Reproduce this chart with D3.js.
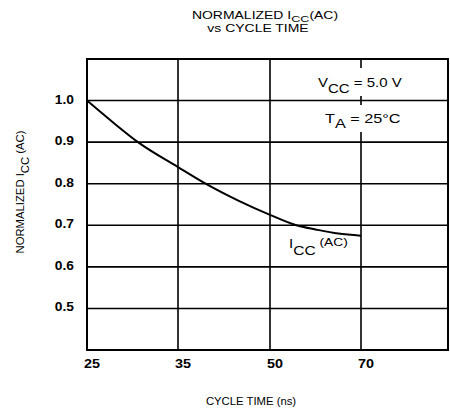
<!DOCTYPE html>
<html>
<head>
<meta charset="UTF-8">
<title>Normalized ICC(AC) vs Cycle Time</title>
<script src="https://cdn.jsdelivr.net/npm/d3@7"></script>
<style>
  body { margin: 0; background: #fff; }
  text { font-family: "Liberation Sans", Arial, sans-serif; fill: #000; }
</style>
</head>
<body>
<div id="chart"></div>
<script>
// data
var cycleTicks = [25, 35, 50, 70];
var iccTicks = [0.5, 0.6, 0.7, 0.8, 0.9, 1.0];
var cycleTime = [25, 28, 30.6, 35, 39.5, 45, 50, 55.8, 60, 65, 70];
var iccNorm = [1.0, 0.945, 0.9, 0.84, 0.8, 0.758, 0.725, 0.7, 0.69, 0.68, 0.675];

var W = 450, H = 408;
// plot box edges (note: "top" is taken by window.top)
var plotL = 87, plotR = 448, plotT = 59, plotB = 350;

var svg = d3.select("#chart").append("svg")
  .attr("width", W)
  .attr("height", H);

// the scanned lettering is wider than Arial, so stretch it sideways
function wideText(parent, x, y, sx, size) {
  return parent.append("g")
    .attr("transform", "translate(" + x + "," + y + ") scale(" + sx + ",1)")
    .append("text")
    .attr("font-size", size);
}

// the axis is not linear: each cycle time has the same column width
var x = d3.scaleLinear()
  .domain(cycleTicks)
  .range([87, 178, 270, 361]);
var y = d3.scaleLinear()
  .domain([0.4, 1.1])
  .range([plotB, plotT]);

// grid
svg.append("g").selectAll("line")
  .data(iccTicks)
  .enter().append("line")
  .attr("x1", plotL).attr("x2", plotR)
  .attr("y1", function (d) { return y(d); })
  .attr("y2", function (d) { return y(d); })
  .attr("stroke", "#000").attr("stroke-width", 1.6);

svg.append("g").selectAll("line")
  .data(cycleTicks.slice(1))
  .enter().append("line")
  .attr("x1", function (d) { return x(d); })
  .attr("x2", function (d) { return x(d); })
  .attr("y1", plotT).attr("y2", plotB)
  .attr("stroke", "#000").attr("stroke-width", 1.6);

// frame
svg.append("rect")
  .attr("x", plotL).attr("y", plotT)
  .attr("width", plotR - plotL).attr("height", plotB - plotT)
  .attr("fill", "none").attr("stroke", "#000").attr("stroke-width", 2);

// tick labels
cycleTicks.forEach(function (d) {
  wideText(svg, x(d) + 5, 368, 1.2, 12)
    .attr("text-anchor", "middle").attr("font-weight", "bold")
    .text(d);
});

iccTicks.forEach(function (d) {
  wideText(svg, 74, y(d) + 3, 1.15, 12)
    .attr("text-anchor", "end").attr("font-weight", "bold")
    .text(d.toFixed(1));
});

// condition notes, on white so the 70 gridline breaks behind them
svg.append("rect").attr("x", 314).attr("y", 68).attr("width", 88).attr("height", 28).attr("fill", "#fff");
svg.append("rect").attr("x", 321).attr("y", 105).attr("width", 80).attr("height", 27).attr("fill", "#fff");

var vcc = wideText(svg, 318, 87, 1.2, 12.5);
vcc.append("tspan").text("V");
vcc.append("tspan").attr("dy", 6).text("CC");
vcc.append("tspan").attr("dy", -6).text(" = 5.0 V");

var ta = wideText(svg, 325, 123, 1.3, 12.5);
ta.append("tspan").text("T");
ta.append("tspan").attr("dy", 5).text("A");
ta.append("tspan").attr("dy", -5).text(" = 25°C");

// curve
var line = d3.line()
  .x(function (d) { return x(d[0]); })
  .y(function (d) { return y(d[1]); })
  .curve(d3.curveMonotoneX);

svg.append("path")
  .datum(d3.zip(cycleTime, iccNorm))
  .attr("d", line)
  .attr("fill", "none")
  .attr("stroke", "#000")
  .attr("stroke-width", 2);

var lab = wideText(svg, 289, 248, 1.25, 12);
lab.append("tspan").text("I");
lab.append("tspan").attr("dy", 7).attr("font-size", 12.5).text("CC");
lab.append("tspan").attr("dy", -9).attr("font-size", 11).text(" (AC)");

// titles
var t1 = wideText(svg, 265, 18.5, 1.33, 10.5).attr("text-anchor", "middle");
t1.append("tspan").text("NORMALIZED I");
t1.append("tspan").attr("dy", 3.5).attr("font-size", 9.5).text("CC");
t1.append("tspan").attr("dy", -3.5).text("(AC)");
wideText(svg, 258, 31.5, 1.33, 10.5).attr("text-anchor", "middle")
  .text("vs  CYCLE TIME");

svg.append("text").attr("x", 251).attr("y", 405).attr("text-anchor", "middle")
  .attr("font-size", 11.3).text("CYCLE TIME (ns)");

var yl = svg.append("text")
  .attr("transform", "translate(24,192) rotate(-90)")
  .attr("text-anchor", "middle").attr("font-size", 11.3);
yl.append("tspan").text("NORMALIZED I");
yl.append("tspan").attr("dy", 5).text("CC");
yl.append("tspan").attr("dy", -5).text(" (AC)");
</script>
</body>
</html>
